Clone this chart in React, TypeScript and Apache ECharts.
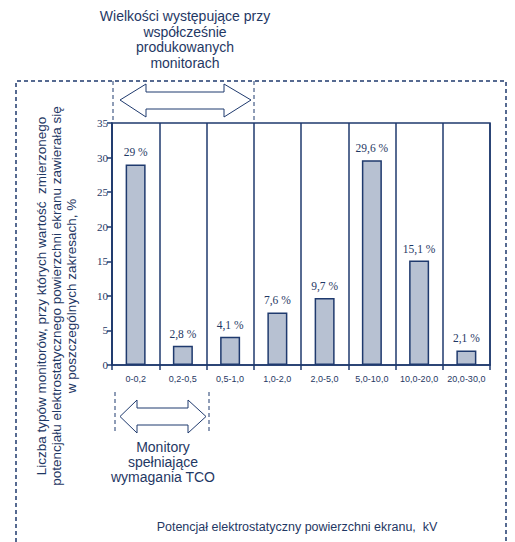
import React, { useEffect, useRef } from "react";
import * as echarts from "echarts";

const categories = ["0-0,2", "0,2-0,5", "0,5-1,0", "1,0-2,0", "2,0-5,0", "5,0-10,0", "10,0-20,0", "20,0-30,0"];
const values = [29, 2.8, 4.1, 7.6, 9.7, 29.6, 15.1, 2.1];
const yTicks = { min: 0, max: 35, interval: 5 };
const topNote = ["Wielkości występujące przy", "współcześnie", "produkowanych", "monitorach"];
const bottomNote = ["Monitory", "spełniające", "wymagania TCO"];
const yTitle = [
  "Liczba typów monitorów, przy których wartość  zmierzonego",
  "potencjału elektrostatycznego powierzchni ekranu zawierała się",
  "w poszczególnych zakresach, %",
];
const xTitle = "Potencjał elektrostatyczny powierzchni ekranu,  kV";

const NAVY = "#1f3a6e";
const TXT = "#1f3864";
const SANS = "Liberation Sans, Arial, sans-serif";
const SERIF = "Liberation Serif, Times New Roman, serif";

export default function App() {
  const ref = useRef<HTMLDivElement>(null);
  useEffect(() => {
    if (!ref.current) return;
    const chart = echarts.init(ref.current, null, { renderer: "svg" });
    const dash = { stroke: NAVY, lineWidth: 1.5, lineDash: [4, 3], fill: "none" };
    const thinDash = { stroke: NAVY, lineWidth: 1, lineDash: [4, 3], fill: "none" };
    const arrowStyle = { fill: "#fff", stroke: NAVY, lineWidth: 1 };
    const graphic: any[] = [
      { type: "polyline", shape: { points: [[16, 542], [16, 81], [506, 81], [506, 542]] }, style: dash, silent: true },
      { type: "line", shape: { x1: 113, y1: 81, x2: 113, y2: 121 }, style: thinDash },
      { type: "line", shape: { x1: 254, y1: 81, x2: 254, y2: 121 }, style: thinDash },
      { type: "line", shape: { x1: 115, y1: 392, x2: 115, y2: 433 }, style: thinDash },
      { type: "line", shape: { x1: 209, y1: 392, x2: 209, y2: 433 }, style: thinDash },
      {
        type: "polygon",
        shape: { points: [[120, 100], [146, 84], [146, 92], [224, 92], [224, 84], [251, 100], [224, 117], [224, 109], [146, 109], [146, 117]] },
        style: arrowStyle,
      },
      {
        type: "polygon",
        shape: { points: [[120, 416.5], [137, 400], [137, 408], [188, 408], [188, 400], [206, 416.5], [188, 433], [188, 425], [137, 425], [137, 433]] },
        style: arrowStyle,
      },
    ];
    topNote.forEach((t, i) => {
      graphic.push({
        type: "text", x: 185, y: 16 + i * 15.5,
        style: { text: t, fill: TXT, font: `14px ${SANS}`, align: "center", verticalAlign: "middle" },
      });
    });
    bottomNote.forEach((t, i) => {
      graphic.push({
        type: "text", x: 163, y: 447 + i * 15,
        style: { text: t, fill: TXT, font: `14px ${SANS}`, align: "center", verticalAlign: "middle" },
      });
    });
    const yx = [41, 56, 71];
    yTitle.forEach((t, i) => {
      graphic.push({
        type: "text", x: yx[i], y: 296, rotation: Math.PI / 2,
        style: { text: t, fill: TXT, font: `13.5px ${SANS}`, align: "center", verticalAlign: "middle" },
      });
    });
    graphic.push({
      type: "text", x: 297, y: 527,
      style: { text: xTitle, fill: TXT, font: `12.5px ${SANS}`, align: "center", verticalAlign: "middle" },
    });

    chart.setOption({
      animation: false,
      grid: { left: 112, right: 25, top: 123, bottom: 177, show: true, borderColor: NAVY, borderWidth: 1.5, backgroundColor: "transparent" },
      xAxis: {
        type: "category",
        data: categories,
        boundaryGap: true,
        axisLine: { show: true, lineStyle: { color: NAVY, width: 1.5 } },
        axisTick: { show: true, length: 5, interval: 0, alignWithLabel: false, lineStyle: { color: NAVY, width: 1.5 } },
        axisLabel: { interval: 0, color: TXT, fontFamily: SANS, fontSize: 9, margin: 9 },
        splitLine: { show: true, interval: 0, lineStyle: { color: NAVY, width: 1.5 } },
      },
      yAxis: {
        type: "value",
        min: yTicks.min,
        max: yTicks.max,
        interval: yTicks.interval,
        axisLine: { show: true, lineStyle: { color: NAVY, width: 1.5 } },
        axisTick: { show: true, length: 5, lineStyle: { color: NAVY, width: 1.5 } },
        axisLabel: { color: TXT, fontFamily: SERIF, fontSize: 11, margin: 4 },
        splitLine: { show: false },
      },
      series: [
        {
          type: "bar",
          data: values,
          barWidth: 20,
          itemStyle: { color: "#b7c1d2", borderColor: NAVY, borderWidth: 1.5 },
          label: {
            show: true,
            position: "top",
            distance: 6,
            color: TXT,
            fontFamily: SERIF,
            fontSize: 11.5,
            formatter: (p: any) => String(values[p.dataIndex]).replace(".", ",") + " %",
          },
        },
      ],
      graphic,
    });
    return () => chart.dispose();
  }, []);
  return <div ref={ref} style={{ position: "fixed", left: 0, top: 0, width: 515, height: 542, background: "#fff" }} />;
}
